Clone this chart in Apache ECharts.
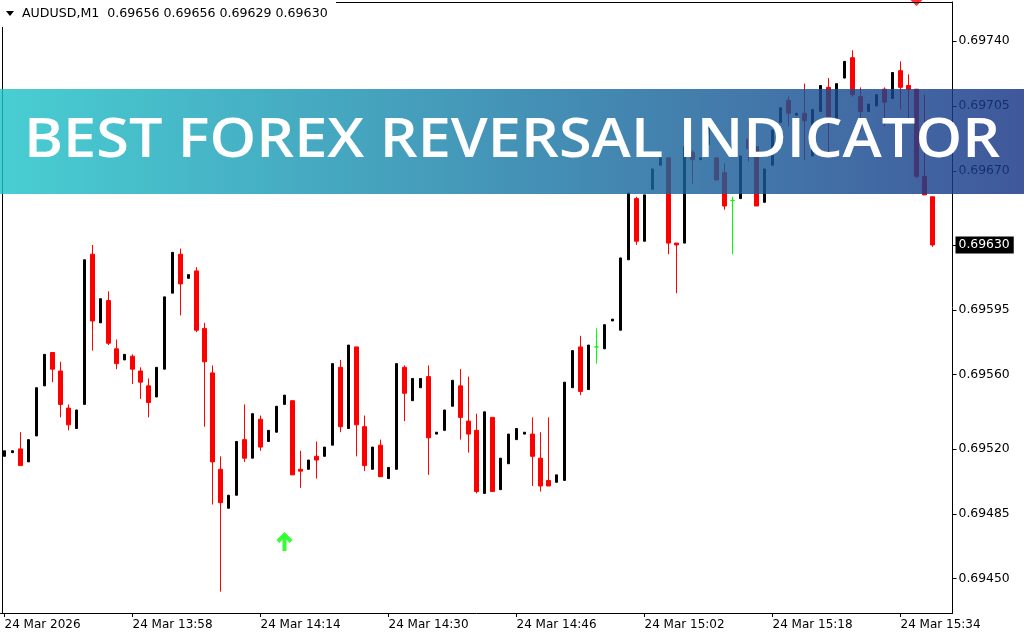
<!DOCTYPE html>
<html><head><meta charset="utf-8">
<script src="https://cdn.jsdelivr.net/npm/echarts@6/dist/echarts.min.js"></script>
<style>html,body{margin:0;padding:0;background:#fff}#c{width:1024px;height:640px}</style>
</head><body><div id="c"></div>
<script>
const symbolName = "AUDUSD,M1";
const bannerText = "BEST FOREX REVERSAL INDICATOR";
const times = ["13:42","13:43","13:44","13:45","13:46","13:47","13:48","13:49","13:50","13:51","13:52","13:53","13:54","13:55","13:56","13:57","13:58","13:59",
"14:00","14:01","14:02","14:03","14:04","14:05","14:06","14:07","14:08","14:09","14:10","14:11","14:12","14:13","14:14","14:15","14:16","14:17","14:18","14:19","14:20","14:21","14:22","14:23","14:24","14:25","14:26","14:27","14:28","14:29","14:30","14:31","14:32","14:33","14:34","14:35","14:36","14:37","14:38","14:39","14:40","14:41","14:42","14:43","14:44","14:45","14:46","14:47","14:48","14:49","14:50","14:51","14:52","14:53","14:54","14:55","14:56","14:57","14:58","14:59",
"15:00","15:01","15:02","15:03","15:04","15:05","15:06","15:07","15:08","15:09","15:10","15:11","15:12","15:13","15:14","15:15","15:16","15:17","15:18","15:19","15:20","15:21","15:22","15:23","15:24","15:25","15:26","15:27","15:28","15:29","15:30","15:31","15:32","15:33","15:34","15:35","15:36","15:37","15:38"];
const futureTimes = ["15:39","15:40"];
const open = [0.69516,0.69518,0.69520,0.69513,0.69527,0.69554,0.69572,0.69562,0.69542,0.69531,
0.69544,0.69625,0.69588,0.69600,0.69574,0.69568,0.69570,0.69562,0.69554,0.69548,
0.69563,0.69604,0.69625,0.69612,0.69616,0.69585,0.69561,0.69509,0.69488,0.69495,
0.69525,0.69515,0.69536,0.69524,0.69529,0.69544,0.69546,0.69509,0.69509,0.69516,
0.69516,0.69522,0.69564,0.69531,0.69575,0.69532,0.69509,0.69522,0.69504,0.69509,
0.69564,0.69546,0.69553,0.69559,0.69528,0.69530,0.69543,0.69554,0.69535,0.69530,
0.69496,0.69537,0.69498,0.69512,0.69525,0.69528,0.69528,0.69515,0.69503,0.69502,
0.69503,0.69553,0.69575,0.69552,0.69575,0.69574,0.69589,0.69584,0.69622,0.69655,
0.69632,0.69660,0.69673,0.69677,0.69631,0.69631,0.69680,0.69676,0.69684,0.69677,
0.69669,0.69654,0.69655,0.69687,0.69683,0.69653,0.69673,0.69696,0.69708,0.69700,
0.69701,0.69678,0.69702,0.69715,0.69698,0.69720,0.69731,0.69710,0.69702,0.69705,
0.69714,0.69709,0.69724,0.69716,0.69714,0.69667,0.69656];
const high = [0.69519,0.69519,0.69529,0.69525,0.69553,0.69571,0.69572,0.69567,0.69544,0.69541,
0.69622,0.69630,0.69601,0.69605,0.69579,0.69571,0.69571,0.69564,0.69558,0.69564,
0.69602,0.69626,0.69628,0.69614,0.69618,0.69588,0.69565,0.69516,0.69495,0.69524,
0.69544,0.69539,0.69538,0.69530,0.69543,0.69549,0.69546,0.69519,0.69514,0.69524,
0.69521,0.69566,0.69568,0.69576,0.69575,0.69538,0.69521,0.69525,0.69510,0.69566,
0.69565,0.69558,0.69558,0.69565,0.69529,0.69541,0.69557,0.69563,0.69559,0.69539,
0.69540,0.69537,0.69515,0.69528,0.69531,0.69529,0.69537,0.69529,0.69537,0.69506,
0.69556,0.69573,0.69581,0.69576,0.69585,0.69587,0.69590,0.69623,0.69658,0.69656,
0.69657,0.69671,0.69677,0.69677,0.69631,0.69683,0.69681,0.69677,0.69693,0.69677,
0.69674,0.69656,0.69678,0.69697,0.69683,0.69671,0.69692,0.69704,0.69710,0.69701,
0.69717,0.69703,0.69716,0.69720,0.69717,0.69729,0.69735,0.69715,0.69706,0.69711,
0.69715,0.69723,0.69729,0.69722,0.69714,0.69711,0.69656];
const low = [0.69516,0.69518,0.69511,0.69513,0.69527,0.69554,0.69556,0.69537,0.69530,0.69531,
0.69544,0.69573,0.69588,0.69576,0.69563,0.69568,0.69555,0.69547,0.69537,0.69548,
0.69563,0.69604,0.69592,0.69612,0.69583,0.69532,0.69490,0.69443,0.69488,0.69495,
0.69513,0.69515,0.69519,0.69524,0.69529,0.69544,0.69506,0.69499,0.69509,0.69504,
0.69516,0.69522,0.69529,0.69531,0.69516,0.69508,0.69509,0.69505,0.69504,0.69509,
0.69535,0.69546,0.69553,0.69506,0.69528,0.69530,0.69543,0.69525,0.69518,0.69496,
0.69496,0.69497,0.69498,0.69512,0.69525,0.69528,0.69500,0.69497,0.69500,0.69502,
0.69503,0.69553,0.69549,0.69552,0.69566,0.69574,0.69589,0.69584,0.69622,0.69630,
0.69632,0.69660,0.69673,0.69625,0.69604,0.69631,0.69663,0.69676,0.69684,0.69665,
0.69649,0.69625,0.69655,0.69675,0.69651,0.69653,0.69673,0.69696,0.69694,0.69700,
0.69676,0.69678,0.69702,0.69680,0.69698,0.69720,0.69710,0.69691,0.69702,0.69705,
0.69694,0.69709,0.69703,0.69696,0.69666,0.69657,0.69629];
const close = [0.69519,0.69519,0.69511,0.69525,0.69553,0.69571,0.69563,0.69544,0.69533,0.69541,
0.69622,0.69589,0.69601,0.69577,0.69566,0.69571,0.69563,0.69556,0.69545,0.69564,
0.69602,0.69626,0.69609,0.69614,0.69584,0.69567,0.69513,0.69491,0.69495,0.69524,
0.69515,0.69539,0.69521,0.69530,0.69543,0.69549,0.69506,0.69508,0.69514,0.69514,
0.69521,0.69566,0.69532,0.69576,0.69533,0.69511,0.69521,0.69505,0.69510,0.69566,
0.69550,0.69558,0.69558,0.69526,0.69529,0.69541,0.69557,0.69537,0.69528,0.69497,
0.69540,0.69497,0.69515,0.69528,0.69531,0.69529,0.69516,0.69500,0.69500,0.69506,
0.69556,0.69573,0.69551,0.69576,0.69575,0.69587,0.69590,0.69623,0.69658,0.69632,
0.69657,0.69671,0.69677,0.69631,0.69630,0.69683,0.69676,0.69677,0.69693,0.69665,
0.69651,0.69654,0.69678,0.69682,0.69651,0.69671,0.69692,0.69704,0.69701,0.69701,
0.69697,0.69703,0.69716,0.69697,0.69717,0.69729,0.69711,0.69702,0.69706,0.69711,
0.69707,0.69723,0.69715,0.69714,0.69667,0.69657,0.69630];
const tickTimes = ["13:42","13:58","14:14","14:30","14:46","15:02","15:18","15:34"];
const tickLabels = ["24 Mar 2026","24 Mar 13:58","24 Mar 14:14","24 Mar 14:30","24 Mar 14:46","24 Mar 15:02","24 Mar 15:18","24 Mar 15:34"];
const priceTicks = [0.69450,0.69485,0.69520,0.69560,0.69595,0.69670,0.69705,0.69740];
const buyArrow = {time: "14:17", price: 0.69470};
const sellArrow = {time: "15:36", price: 0.69764};

const FONT = "DejaVu Sans";
const Y_MIN = 0.694315, Y_MAX = 0.6976103;
const cats = times.concat(futureTimes);
const empty = ['-','-','-','-'];
const bull = [], bear = [], doji = [];
for (let i = 0; i < times.length; i++) {
  const item = [open[i], close[i], low[i], high[i]];
  bull.push(close[i] > open[i] ? item : empty);
  bear.push(close[i] < open[i] ? item : empty);
  doji.push(close[i] === open[i] ? item : empty);
}
const last = times.length - 1;
const lastClose = close[last];
const header = symbolName + "  " + [open[last], high[last], low[last], close[last]].map(v => v.toFixed(5)).join(" ");

const chart = echarts.init(document.getElementById('c'), null, {renderer: 'canvas'});
const isTick = (idx, val) => tickTimes.indexOf(val) >= 0;
const upArrow = 'path://M8 0 L16 8 L13 11 L10 7.5 L10 19 L6 19 L6 7.5 L3 11 L0 8 Z';
const downArrow = 'path://M8 19 L16 11 L13 8 L10 11.5 L10 0 L6 0 L6 11.5 L3 8 L0 11 Z';

chart.setOption({
  animation: false,
  backgroundColor: '#fff',
  grid: {left: 0.5, right: 71.5, top: 2, bottom: 27, containLabel: false},
  xAxis: {
    type: 'category', data: cats, boundaryGap: true,
    axisLine: {show: true, lineStyle: {color: '#000', width: 1}},
    axisTick: {show: true, interval: isTick, alignWithLabel: true, length: 4, lineStyle: {color: '#000'}},
    axisLabel: {interval: isTick, formatter: v => tickLabels[tickTimes.indexOf(v)], align: 'left', margin: 6,
      color: '#000', fontFamily: FONT, fontSize: 12},
    splitLine: {show: false}
  },
  yAxis: [{
    type: 'value', position: 'right', scale: true, min: Y_MIN, max: Y_MAX,
    axisLine: {show: true, lineStyle: {color: '#000', width: 1}},
    axisTick: {show: true, customValues: priceTicks, length: 4, lineStyle: {color: '#000'}},
    axisLabel: {customValues: priceTicks, formatter: v => v.toFixed(5), margin: 6, color: '#000', fontFamily: FONT, fontSize: 12.4},
    splitLine: {show: false}
  }, {
    type: 'value', position: 'right', scale: true, min: Y_MIN, max: Y_MAX,
    axisLine: {show: false},
    axisTick: {show: true, customValues: [lastClose], length: 4, lineStyle: {color: '#000'}},
    axisLabel: {customValues: [lastClose], formatter: v => v.toFixed(5), margin: 3, color: '#fff',
      backgroundColor: '#000', padding: [3, 4, 2, 3], fontFamily: FONT, fontSize: 12.4},
    splitLine: {show: false}
  }],
  series: [
    {type: 'candlestick', name: 'bull', data: bull, barWidth: 2, z: 3,
      itemStyle: {color: '#000', color0: '#000', borderColor: '#000', borderColor0: '#000', borderWidth: 1}},
    {type: 'candlestick', name: 'bear', data: bear, barWidth: 4, z: 3,
      itemStyle: {color: '#ff0000', color0: '#ff0000', borderColor: '#ff0000', borderColor0: '#ff0000', borderWidth: 1}},
    {type: 'candlestick', name: 'doji', data: doji, barWidth: 4, z: 3,
      itemStyle: {color: '#00ff00', color0: '#00ff00', borderColor: '#00ff00', borderColor0: '#00ff00', borderWidth: 1}},
    {type: 'scatter', name: 'buy', data: [[buyArrow.time, buyArrow.price]], symbol: upArrow, symbolSize: [16, 19], z: 5,
      itemStyle: {color: '#00ff00'}, clip: false},
    {type: 'scatter', name: 'sell', data: [[sellArrow.time, sellArrow.price]], symbol: downArrow, symbolSize: [16, 19], z: 1,
      itemStyle: {color: '#ff0000'}, clip: false}
  ],
  graphic: [
    {type: 'rect', z: 50, shape: {x: 0, y: 0, width: 336, height: 26}, style: {fill: '#fff'}},
    {type: 'line', z: 60, shape: {x1: 2.5, y1: 27, x2: 2.5, y2: 613}, style: {stroke: '#000', lineWidth: 1}},
    {type: 'line', z: 60, shape: {x1: 336, y1: 2.5, x2: 952, y2: 2.5}, style: {stroke: '#000', lineWidth: 1}},
    {type: 'polygon', z: 60, shape: {points: [[6, 11], [14, 11], [10, 16]]}, style: {fill: '#000'}},
    {type: 'text', z: 60, x: 22, y: 14, style: {text: header, fill: '#000', font: '12.6px "DejaVu Sans"', textVerticalAlign: 'middle'}},
    {type: 'rect', z: 100, shape: {x: 0, y: 89, width: 1024, height: 105},
      style: {fill: new echarts.graphic.LinearGradient(0, 0, 1, 0, [
        {offset: 0, color: 'rgba(32,195,200,0.82)'},
        {offset: 1, color: 'rgba(22,51,133,0.82)'}])}},
    {type: 'text', z: 101, x: 512, y: 141, scaleX: 1.08, style: {text: bannerText, fill: '#fff', font: '600 55px "Open Sans"', textAlign: 'center', textVerticalAlign: 'middle'}}
  ]
});
</script>
</body></html>
